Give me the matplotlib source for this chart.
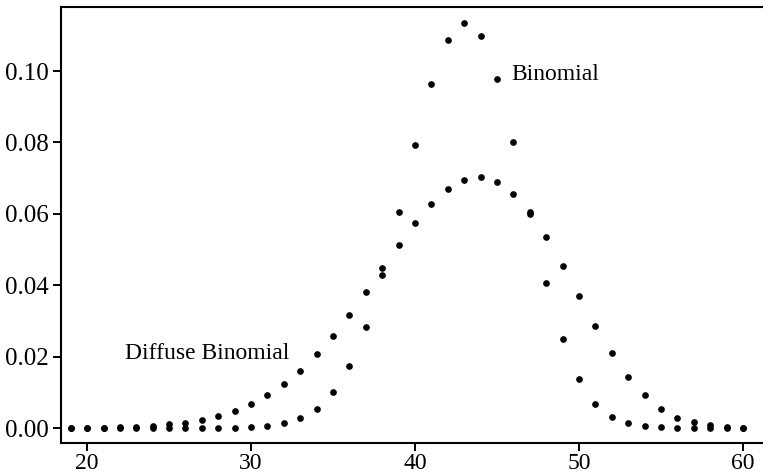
import numpy as np
import matplotlib
matplotlib.use("Agg")
import matplotlib.pyplot as plt

plt.rcParams["font.family"] = ["Liberation Serif", "DejaVu Serif"]

x = np.arange(19, 61)

binomial = [
    0, 0, 0, 0, 0, 0, 0, 0, 0, 0,                     # 19-28
    0.0001, 0.0003, 0.0006, 0.0013, 0.0028,           # 29-33
    0.0054, 0.0101, 0.0175, 0.0284, 0.0430,           # 34-38
    0.0606, 0.0793, 0.0963, 0.1086, 0.1135,           # 39-43
    0.1098, 0.0979, 0.0801, 0.0600, 0.0407,           # 44-48
    0.0249, 0.0137, 0.0068, 0.0032, 0.0013,           # 49-53
    0.0006, 0.0002, 0.0001, 0, 0, 0, 0,               # 54-60
]

diffuse = [
    0.0000, 0.0001, 0.0001, 0.0002, 0.0004,           # 19-23
    0.0006, 0.0010, 0.0015, 0.0022, 0.0034,           # 24-28
    0.0048, 0.0067, 0.0092, 0.0123, 0.0161,           # 29-33
    0.0207, 0.0259, 0.0318, 0.0381, 0.0447,           # 34-38
    0.0512, 0.0575, 0.0628, 0.0670, 0.0696,           # 39-43
    0.0702, 0.0689, 0.0656, 0.0604, 0.0535,           # 44-48
    0.0455, 0.0371, 0.0287, 0.0209, 0.0144,           # 49-53
    0.0092, 0.0054, 0.0029, 0.0016, 0.0008,           # 54-58
    0.0003, 0.0001,                                   # 59-60
]

x_ticks = [20, 30, 40, 50, 60]
y_ticks = [0.00, 0.02, 0.04, 0.06, 0.08, 0.10]

fig = plt.figure(figsize=(7.63, 4.75), dpi=100)
ax = fig.add_axes([0.080, 0.068, 0.920, 0.917])

ax.plot(x, binomial, "o", color="black", markersize=3.8, linestyle="none")
ax.plot(x, diffuse, "o", color="black", markersize=3.8, linestyle="none")

ax.text(45.9, 0.0989, "Binomial", fontsize=17, va="center", ha="left")
ax.text(22.3, 0.0210, "Diffuse Binomial", fontsize=17, va="center", ha="left")

ax.set_xlim(18.41, 61.22)
ax.set_ylim(-0.0041, 0.1179)
ax.set_xticks(x_ticks)
ax.set_yticks(y_ticks)
ax.set_yticklabels([f"{v:.2f}" for v in y_ticks])

ax.spines["right"].set_visible(False)
for side in ["left", "top", "bottom"]:
    ax.spines[side].set_linewidth(1.5)
ax.tick_params(direction="out", length=6, width=1.4)
ax.tick_params(axis="y", labelsize=18, pad=3)
ax.tick_params(axis="x", labelsize=17, pad=1.5)

fig.savefig("out.png", dpi=100)
